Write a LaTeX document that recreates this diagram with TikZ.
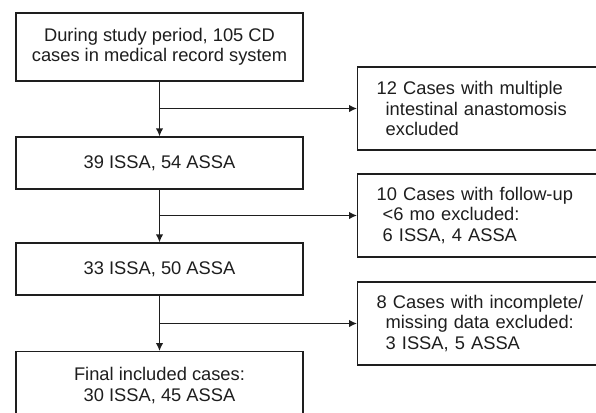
\documentclass[tikz,border=0pt]{standalone}
\usepackage{fontspec}
\setmainfont{Liberation Sans}
\usetikzlibrary{arrows.meta}
\definecolor{ink}{HTML}{1E1E1E}
\tikzset{
  lbox/.style={draw=ink, line width=1.35pt, minimum width=287pt, inner sep=0pt, align=center, text=ink,
    font=\fontsize{18.3}{20.5}\selectfont},
  rbox/.style={draw=ink, line width=1.35pt, minimum width=245pt, minimum height=83pt, inner sep=0pt, text=ink,
    font=\fontsize{18.3}{20.5}\selectfont, anchor=west, text width=207pt, align=left, inner xsep=18pt},
  flow/.style={draw=ink, line width=1.35pt, -{Latex[length=8pt,width=7.5pt]}}
}
\begin{document}
\begin{tikzpicture}[x=1pt,y=-1pt]
\useasboundingbox (0,0) rectangle (596,412);
\clip (0,0) rectangle (596,412);
\fill[white] (0,0) rectangle (596,412);
% left column
\node[lbox, minimum height=68pt] (b1) at (159.5,47) {During study period, 105 CD\\cases in medical record system};
\node[lbox, minimum height=52pt] (b2) at (159.5,163) {39 ISSA, 54 ASSA};
\node[lbox, minimum height=52pt] (b3) at (159.5,269) {33 ISSA, 50 ASSA};
\node[lbox, minimum height=68pt, anchor=north] (b4) at (159.5,351) {Final included cases:\\30 ISSA, 45 ASSA};
% right column
\node[rbox] (r1) at (357,108.5) {12 Cases with multiple\\\hspace*{9pt}intestinal anastomosis\\\hspace*{9pt}excluded};
\node[rbox] (r2) at (357,215.5) {10 Cases with follow-up\\\hspace*{6pt}<6 mo excluded:\\\hspace*{6pt}6 ISSA, 4 ASSA};
\node[rbox] (r3) at (357,323.5) {8 Cases with incomplete/\\\hspace*{9pt}missing data excluded:\\\hspace*{9pt}3 ISSA, 5 ASSA};
% connectors
\draw[flow] (b1.south) -- (b2.north);
\draw[flow] (b1.south |- r1.west) -- (r1.west);
\draw[flow] (b2.south) -- (b3.north);
\draw[flow] (b2.south |- r2.west) -- (r2.west);
\draw[flow] (b3.south) -- (b4.north);
\draw[flow] (b3.south |- r3.west) -- (r3.west);
\end{tikzpicture}
\end{document}
